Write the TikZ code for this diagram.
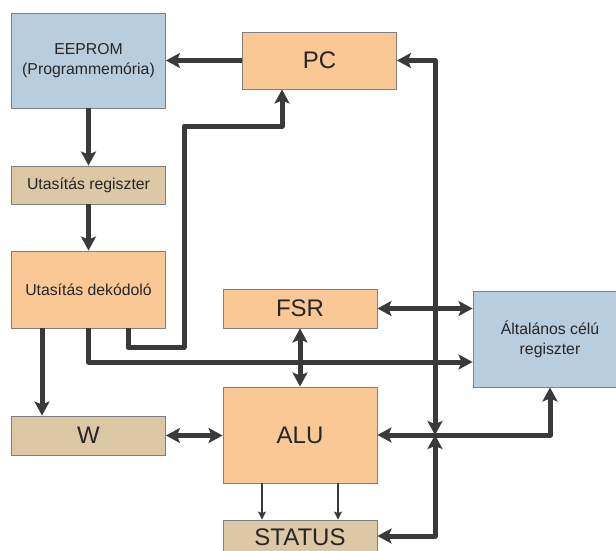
\documentclass[tikz,border=0pt]{standalone}
\usepackage{fontspec}
\setmainfont{Liberation Sans}
\usetikzlibrary{arrows.meta}
\definecolor{memblue}{RGB}{184,206,222}
\definecolor{regorange}{RGB}{250,200,148}
\definecolor{regtan}{RGB}{221,200,165}
\definecolor{wire}{RGB}{58,58,58}
\definecolor{edge}{RGB}{128,128,128}

\begin{document}
\begin{tikzpicture}[x=1pt, y=-1pt, >={Stealth[length=14pt,width=15pt,inset=3pt]},
		every block/.style={draw=edge, line width=0.9pt, minimum width=154pt, inner sep=0pt, align=center, text=black!85},
		small text/.style={font=\fontsize{15.8}{20}\selectfont},
		large text/.style={font=\fontsize{24}{28}\selectfont},
		mem/.style={every block, fill=memblue, small text},
		unit/.style={every block, fill=regorange},
		reg/.style={every block, fill=regtan},
		bus/.style={draw=wire, line width=5pt, line join=round},
		flag/.style={draw=wire, line width=1.3pt, -{Stealth[length=8pt,width=8pt,inset=1.5pt]}}]
		
		\useasboundingbox (0,0) rectangle (616,551);
		
		\node [mem, minimum height=95pt] (eeprom) at (88.5,60.5) {EEPROM\\(Programmemória)};
		\node [unit, large text, minimum height=57pt] (pc) at (319.5,60.5) {PC};
		\node [reg, small text, minimum height=38pt] (ureg) at (88.5,185) {Utasítás regiszter};
		\node [unit, small text, minimum height=77pt] (dek) at (88.5,289.5) {Utasítás dekódoló};
		\node [unit, large text, minimum height=39pt] (fsr) at (300,308.5) {FSR};
		\node [mem, minimum height=96pt] (gpr) at (550,339) {Általános célú\\regiszter};
		\node [reg, large text, minimum height=39pt] (w) at (88.5,435.5) {W};
		\node [unit, large text, minimum height=96pt] (alu) at (300,435) {ALU};
		\node [reg, large text, minimum height=35pt] (status) at (300,537.5) {STATUS};
		
		\coordinate (junction) at (435,435);
		
		\draw [bus, ->] (pc) -- (eeprom);
		\draw [bus, ->] (eeprom) -- (ureg);
		\draw [bus, ->] (ureg) -- (dek);
		\draw [bus, ->] ([xshift=-46.5pt]dek.south) -- ([xshift=-46.5pt]w.north);
		\draw [bus, ->] ([xshift=39.5pt]dek.south) -- ++(0,19) -| (184,126) -| ([xshift=-37.5pt]pc.south);
		\draw [bus, ->] (dek.south) |- ([yshift=-23pt]gpr.west);
		\draw [bus, <->] (fsr.east) -- (fsr.east -| gpr.west);
		\draw [bus, <->] (fsr) -- (alu);
		\draw [bus, <->] (w.east) -- (w.east -| alu.west);
		\draw [bus, <->] (pc.east) -| (junction);
		\draw [bus, <->] ([yshift=1.5pt]status.east) -| (junction);
		\draw [bus, <->] (alu.east) -| (gpr.south);
		
		\foreach \s in {-38,38}
		\draw [flag] ([xshift=\s pt]alu.south) -- ([xshift=\s pt]status.north);
		
		\end{tikzpicture}
\end{document}
